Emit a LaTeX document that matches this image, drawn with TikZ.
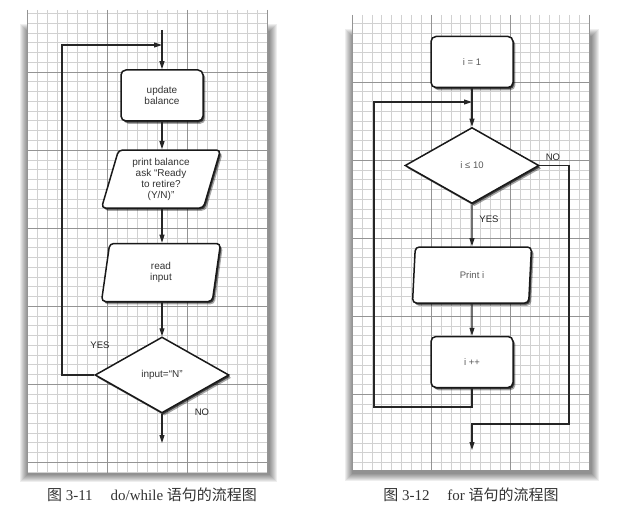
\documentclass[tikz,border=0pt]{standalone}
\usepackage{fontspec}
\setmainfont{Liberation Serif}
\setsansfont{Liberation Sans}
\newfontfamily\cjk{Noto Sans CJK SC}
\usetikzlibrary{shapes.geometric,arrows.meta,shadows}
\begin{document}
\begin{tikzpicture}[x=1pt,y=-1pt,
  flowline/.style={line width=1.1pt, draw=black!85},
  arr/.style={flowline,-{Triangle[length=8pt,width=5pt]}},
  nodeshadow/.style={drop shadow={shadow xshift=2.4pt,shadow yshift=-2.8pt,opacity=.35,fill=black},
                     drop shadow={shadow xshift=1.3pt,shadow yshift=-1.6pt,opacity=.6,fill=black}},
  boxfont/.style={font=\sffamily\fontsize{10}{11}\selectfont, text=black!80},
  smallfont/.style={font=\sffamily\fontsize{9.5}{11}\selectfont, text=black!65},
  procbox/.style={draw=black!90, line width=1.5pt, rounded corners=5pt, fill=white,
    minimum width=82pt, minimum height=51pt, inner sep=0pt, align=center, boxfont, nodeshadow},
  iobox/.style={trapezium, trapezium left angle=68, trapezium right angle=112,
    trapezium stretches body, draw=black!90, line width=1.5pt, rounded corners=4pt, fill=white,
    minimum width=119pt, minimum height=58pt, inner sep=0pt, align=center, boxfont, nodeshadow},
  decision/.style={diamond, draw=black!90, line width=1.5pt, fill=white,
    minimum width=134pt, minimum height=76pt, inner sep=0pt, boxfont, nodeshadow},
  lbl/.style={font=\sffamily\fontsize{9.5}{11}\selectfont, text=black!85, inner sep=0pt},
  minorline/.style={draw=black!18, line width=0.5pt},
  majorline/.style={draw=black!42, line width=0.6pt},
  caption/.style={font=\fontsize{15}{17}\selectfont, text=black!80, inner sep=0pt}
]
\useasboundingbox (0,0) rectangle (622,527);
\fill[white] (0,0) rectangle (622,527);

% ---------- paper shadows ----------
\foreach \k in {0,...,7}{
  \fill[black,opacity=0.065] ({20+\k},{24+\k}) rectangle ({277-\k},{482-\k});
  \fill[black,opacity=0.065] ({345+\k},{29+\k}) rectangle ({599-\k},{481-\k});
}

% ---------- left paper ----------
\fill[white] (27,10) rectangle (267,473);
\foreach \i in {0,...,24} \draw[minorline] ({27+10*\i},10) -- ({27+10*\i},473);
\foreach \j in {0,...,47} \draw[minorline] (27,{13.5+9.75*\j}) -- (267,{13.5+9.75*\j});
\foreach \x in {27,107,187,267} \draw[majorline] (\x,10) -- (\x,473);
\foreach \y in {72,150,228,306,384,462} \draw[majorline] (27,\y) -- (267,\y);

% ---------- right paper ----------
\fill[white] (352,15) rectangle (589,470);
\foreach \i in {0,...,24} \draw[minorline] ({352+9.875*\i},15) -- ({352+9.875*\i},470);
\foreach \j in {0,...,45} \draw[minorline] (352,{23.5+9.75*\j}) -- (589,{23.5+9.75*\j});
\foreach \x in {352,431,510,589} \draw[majorline] (\x,15) -- (\x,470);
\foreach \y in {82,160,238,316,394} \draw[majorline] (352,\y) -- (589,\y);

% ---------- left flowchart (do/while) ----------
\node[procbox] (upd) at (162,95.5) {update\\balance};
\node[iobox] (prt) at (161,179) {print balance\\ask “Ready\\to retire?\\(Y/N)”};
\node[iobox] (rd) at (161,272.5) {read\\input};
\node[decision] (dec) at (162,375) {input=“N”};
\coordinate (lstart) at (162,30);
\coordinate (lend) at (162,443);
\coordinate (lloop1) at (62,375);
\coordinate (lloop2) at (62,45);
\coordinate (lloopin) at (162,45);

\draw[arr] (lstart) -- (upd.north);
\draw[arr] (upd.south) -- (upd.south |- prt.north);
\draw[arr] (upd.south |- prt.south) -- (upd.south |- rd.north);
\draw[arr] (upd.south |- rd.south) -- (dec.north);
\draw[arr] (dec.west) -- (lloop1) -- (lloop2) -- (lloopin);
\draw[arr] (dec.south) -- (lend);
\node[lbl] (yesL) at (100,345) {YES};
\node[lbl] (noL) at (202,412) {NO};

% ---------- right flowchart (for) ----------
\node[procbox, smallfont] (init) at (472,62) {i = 1};
\node[decision, smallfont] (cond) at (472,165.5) {i ≤ 10};
\node[iobox, minimum height=56pt, smallfont] (pri) at (472,275) {Print i};
\node[procbox, smallfont] (inc) at (472,362) {i ++};
\coordinate (rloopin) at (472,102);
\coordinate (rloop1) at (374,407);
\coordinate (rloop2) at (374,102);
\coordinate (rno) at (569,424);
\coordinate (rend) at (472,450);

\draw[arr] (init.south) -- (cond.north);
\draw[arr] (cond.south) -- (pri.north);
\draw[arr] (pri.south) -- (inc.north);
\draw[arr] (inc.south) |- (rloop1) -- (rloop2) -- (rloopin);
\draw[arr] (cond.east) -| (rno) -| (rend);
\node[lbl] (noR) at (553,157) {NO};
\node[lbl] (yesR) at (489,219) {YES};

% ---------- captions ----------
\node[caption] (capL) at (152,495) {{\cjk 图} 3-11\hspace{1.2em}do/while {\cjk 语句的流程图}};
\node[caption] (capR) at (471,495) {{\cjk 图} 3-12\hspace{1.2em}for {\cjk 语句的流程图}};
\end{tikzpicture}
\end{document}
